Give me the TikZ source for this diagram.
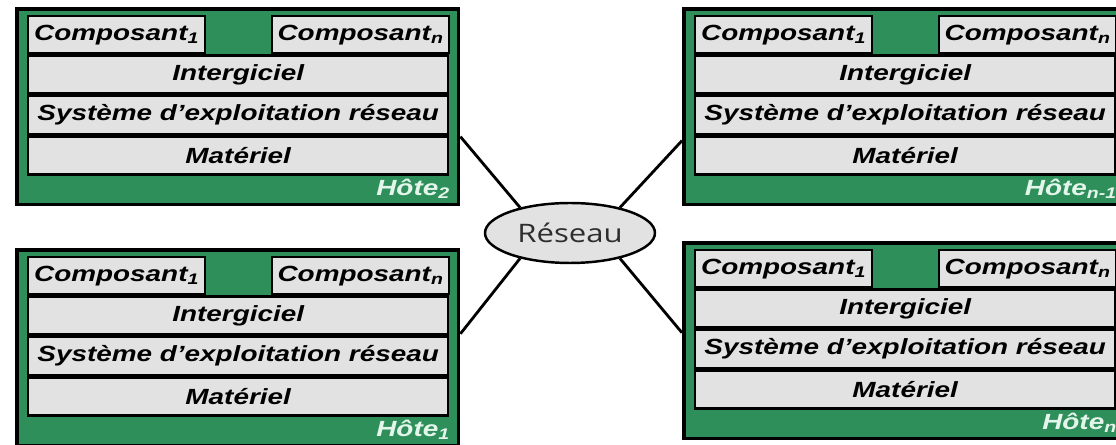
\documentclass[tikz,border=0pt]{standalone}
\usepackage{fontspec}
\usepackage{tikz}
\usetikzlibrary{calc,positioning,shapes.geometric}
\newfontfamily\hotefont{Liberation Sans}[FakeStretch=1.27]
\newfontfamily\reseaufont{Open Sans}[FakeStretch=1.22]
\definecolor{vertreseau}{HTML}{2F8F5B}
\definecolor{griscouche}{HTML}{E2E2E2}
\definecolor{vertpale}{HTML}{E4F6EC}
\definecolor{textegris}{HTML}{2E2E2E}

\tikzset{
  hote/.style={draw=black, line width=2pt, fill=vertreseau, anchor=north west,
    minimum width=8.84cm, minimum height=3.92cm, inner sep=0pt},
  couche/.style={draw=black, line width=1.4pt, fill=griscouche, inner sep=0pt,
    minimum width=8.4cm, minimum height=0.76cm,
    font=\hotefont\fontsize{12.5}{14}\selectfont\bfseries\itshape},
  composant/.style={couche, minimum width=3.54cm, minimum height=0.74cm},
  etiquette/.style={text=vertpale, inner sep=0pt, anchor=base east,
    font=\hotefont\fontsize{12.5}{14}\selectfont\bfseries\itshape},
  reseau/.style={ellipse, draw=black, line width=1.4pt, fill=griscouche, inner sep=0pt,
    minimum width=3.4cm, minimum height=1.2cm, text=textegris,
    font=\reseaufont\fontsize{14.5}{16}\selectfont},
  lien/.style={draw=black, line width=1.6pt}
}

\begin{document}
\begin{tikzpicture}[x=0.02cm, y=-0.02cm]
  \useasboundingbox (0,0) rectangle (1116,445);
  % les quatre hotes, chacun avec sa pile de couches
  \foreach \nom/\x/\y/\ind in {h2/15/7/2, hm/682/7/{n-1}, h1/15/248/1, hn/682/241/n} {
    \node[hote] (\nom) at (\x,\y) {};
    \node[composant, anchor=north west] (\nom-c1) at ($(\nom.north west)+(12,8)$) {Composant\textsubscript{1}};
    \node[composant, anchor=north east] (\nom-cn) at ($(\nom.north east)+(-10,8)$) {Composant\textsubscript{n}};
    \node[couche, anchor=north west] (\nom-mw) at (\nom-c1.south west) {Intergiciel};
    \node[couche, below=0pt of \nom-mw] (\nom-os) {Système d’exploitation réseau};
    \node[couche, below=0pt of \nom-os] (\nom-hw) {Matériel};
    \node[etiquette] (\nom-nom) at ($(\nom.south east)+(-10,-11)$) {Hôte\textsubscript{\ind}};
  }
  \node[reseau] (reseau) at (570,233) {Réseau};
  % liaisons vers le reseau
  \draw[lien] ($(h2.north east)!0.65!(h2.south east)$) -- (reseau.153);
  \draw[lien] ($(hm.north west)!0.67!(hm.south west)$) -- (reseau.27);
  \draw[lien] ($(h1.north east)!0.43!(h1.south east)$) -- (reseau.207);
  \draw[lien] ($(hn.north west)!0.46!(hn.south west)$) -- (reseau.333);
\end{tikzpicture}
\end{document}
